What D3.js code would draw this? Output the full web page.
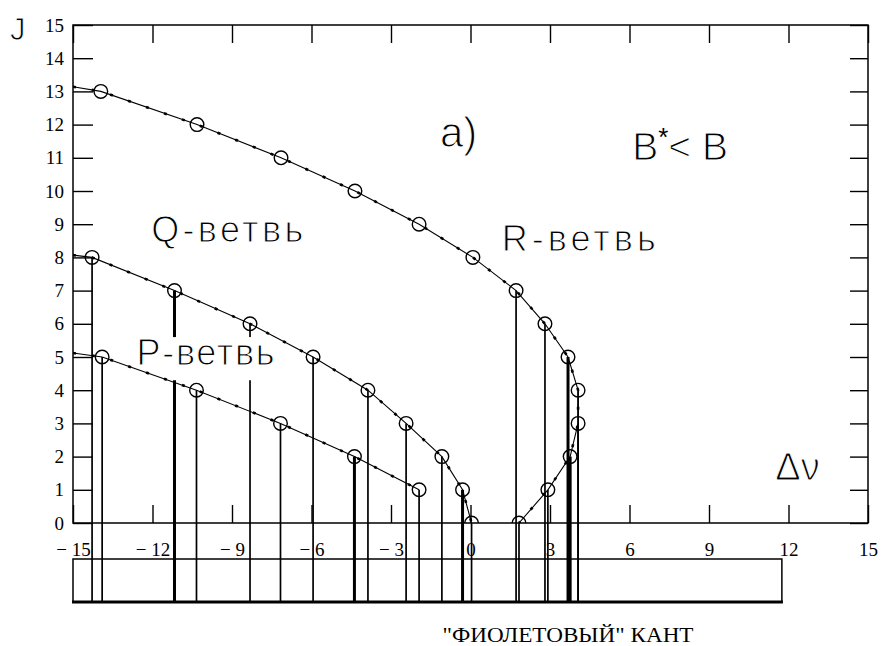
<!DOCTYPE html>
<html>
<head>
<meta charset="utf-8">
<script src="https://cdn.jsdelivr.net/npm/d3@7"></script>
<style>
  body { margin: 0; background: #fff; }
  svg { display: block; }
</style>
</head>
<body>
<svg id="chart" width="886" height="646"></svg>
<script>
// Fortrat diagram: rotational number J against line shift Δν

// R branch (upper curve)
const jR  = [13, 12, 11, 10, 9, 8, 7, 6, 5, 4, 3, 2, 1, 0];
const nuR = [-13.95, -10.32, -7.15, -4.36, -1.94, 0.09, 1.72, 2.81, 3.68, 4.06, 4.06, 3.76, 2.92, 1.83];
// spectral line strength for each R point (0 = no line drawn)
const lineR = [0, 0, 0, 0, 0, 0, 1, 1, 2, 1, 1, 2, 1, 1];

// Q branch (middle curve)
const jQ  = [8, 7, 6, 5, 4, 3, 2, 1, 0];
const nuQ = [-14.28, -11.17, -8.32, -5.94, -3.87, -2.43, -1.08, -0.3, 0.04];
const lineQ = [1, 2, 1, 1, 1, 1, 1, 2, 1];

// P branch (lower curve)
const jP  = [5, 4, 3, 2, 1];
const nuP = [-13.9, -10.34, -7.17, -4.38, -1.94];
const lineP = [1, 1, 1, 2, 1];

// where each curve meets the left border (Δν = -15)
const edgeNu = -15;
const edgeJ = { R: 13.14, Q: 8.07, P: 5.12 };

// axis ticks
const xTicks = [-15, -12, -9, -6, -3, 0, 3, 6, 9, 12, 15];
const yTicks = [0, 1, 2, 3, 4, 5, 6, 7, 8, 9, 10, 11, 12, 13, 14, 15];

// spectrum strip range (Δν)
const stripRange = [-15, 11.75];

const svg = d3.select("#chart");
const plotLeft = 73, plotRight = 868, plotTop = 25, plotBottom = 523;

const x = d3.scaleLinear().domain([-15, 15]).range([plotLeft, plotRight]);
const y = d3.scaleLinear().domain([0, 15]).range([plotBottom, plotTop]);
const lineWidth = d3.scaleOrdinal().domain([1, 2]).range([1.7, 3]);

const branches = [
  { key: "R", j: jR, nu: nuR, line: lineR },
  { key: "Q", j: jQ, nu: nuQ, line: lineQ },
  { key: "P", j: jP, nu: nuP, line: lineP }
];

const stripTop = 559, stripBottom = 602;

svg.append("defs").append("clipPath").attr("id", "plotClip")
  .append("rect").attr("x", plotLeft).attr("y", plotTop)
  .attr("width", plotRight - plotLeft).attr("height", plotBottom - plotTop);

const serif = "'Liberation Serif', 'DejaVu Serif', 'Liberation Sans', serif";
const sans = "'Liberation Sans', Arial, sans-serif";

// ---- axes (ticks point inward) ----
const gx = svg.append("g").attr("transform", `translate(0,${plotBottom})`)
  .call(d3.axisBottom(x).tickValues(xTicks).tickSize(-18).tickPadding(20)
    .tickFormat(d => d < 0 ? "\u2212 " + Math.abs(d) : String(d)));
const gy = svg.append("g").attr("transform", `translate(${plotLeft},0)`)
  .call(d3.axisLeft(y).tickValues(yTicks).tickSize(-20).tickPadding(9));
const gt = svg.append("g").attr("transform", `translate(0,${plotTop})`)
  .call(d3.axisTop(x).tickValues(xTicks).tickSize(-18).tickFormat(""));
const gr = svg.append("g").attr("transform", `translate(${plotRight},0)`)
  .call(d3.axisRight(y).tickValues(yTicks).tickSize(-18).tickFormat(""));

[gx, gy, gt, gr].forEach(g => {
  g.attr("font-family", serif).attr("font-size", 19);
  g.select(".domain").remove();
  g.selectAll(".tick line").attr("stroke", "#000").attr("stroke-width", 1.4);
  g.selectAll(".tick text")
    .attr("fill", "#000")
    .attr("font-family", serif)
    .attr("font-size", 19);
});

// ---- spectrum strip below the axis ----
svg.append("rect")
  .attr("x", x(stripRange[0])).attr("y", stripTop)
  .attr("width", x(stripRange[1]) - x(stripRange[0]))
  .attr("height", stripBottom - stripTop)
  .attr("fill", "none").attr("stroke", "#000").attr("stroke-width", 1.5);

// ---- spectral lines: from each point down through the strip ----
const linesG = svg.append("g");
branches.forEach(b => {
  b.j.forEach((j, i) => {
    if (!b.line[i]) return;
    linesG.append("line")
      .attr("x1", x(b.nu[i])).attr("x2", x(b.nu[i]))
      .attr("y1", y(j)).attr("y2", stripBottom)
      .attr("stroke", "#000")
      .attr("stroke-width", lineWidth(b.line[i]));
  });
});

// strip bottom edge (heavy)
svg.append("line")
  .attr("x1", x(stripRange[0]) - 1).attr("x2", x(stripRange[1]) + 1)
  .attr("y1", stripBottom).attr("y2", stripBottom)
  .attr("stroke", "#000").attr("stroke-width", 3);

// plot frame
svg.append("rect")
  .attr("x", plotLeft).attr("y", plotTop)
  .attr("width", plotRight - plotLeft).attr("height", plotBottom - plotTop)
  .attr("fill", "none").attr("stroke", "#000").attr("stroke-width", 1.5);

// white backing under the P-branch caption
svg.append("rect")
  .attr("x", x(-12.7)).attr("y", y(5.6))
  .attr("width", x(-7.5) - x(-12.7)).attr("height", y(4.3) - y(5.6))
  .attr("fill", "#fff");

// ---- branch curves ----
const curve = d3.line().x(d => x(d[0])).y(d => y(d[1]));
const curvesG = svg.append("g").attr("clip-path", "url(#plotClip)");
branches.forEach(b => {
  const pts = [[edgeNu, edgeJ[b.key]]].concat(b.j.map((j, i) => [b.nu[i], j]));
  curvesG.append("path").attr("d", curve(pts))
    .attr("fill", "none").attr("stroke", "#000").attr("stroke-width", 1.1);
  curvesG.append("path").attr("d", curve(pts))
    .attr("fill", "none").attr("stroke", "#000").attr("stroke-width", 2.6)
    .attr("stroke-dasharray", "3 16");
});

// ---- open circle markers ----
branches.forEach(b => {
  curvesG.selectAll(null)
    .data(b.j.map((j, i) => ({ j, nu: b.nu[i] })))
    .join("circle")
    .attr("cx", d => x(d.nu)).attr("cy", d => y(d.j)).attr("r", 6.8)
    .attr("fill", "none").attr("stroke", "#000").attr("stroke-width", 1.4);
});

// ---- captions ----
function label(txt, nu, j, size, width) {
  const t = svg.append("text")
    .attr("x", x(nu)).attr("y", y(j))
    .attr("font-family", sans).attr("font-size", size)
    .attr("fill", "#000").attr("stroke", "#fff").attr("stroke-width", 1.1)
    .text(txt);
  if (width) t.attr("textLength", width).attr("lengthAdjust", "spacing");
  return t;
}
label("Q-ветвь", -12.05, 8.47, 36, 152);
label("P-ветвь", -12.6, 4.75, 36, 138);
label("R-ветвь", 1.18, 8.2, 36, 154);
label("a)", -1.15, 11.32, 42);
label("\u0394\u03bd", 11.5, 1.3, 38);

const bLabel = svg.append("text")
  .attr("x", x(6.1)).attr("y", y(10.93))
  .attr("font-family", sans).attr("font-size", 39)
  .attr("fill", "#000");
bLabel.append("tspan").attr("stroke", "#fff").attr("stroke-width", 1.1).text("B");
bLabel.append("tspan").attr("dy", -14).attr("font-size", 26).text("*");
bLabel.append("tspan").attr("dy", 14).attr("stroke", "#fff").attr("stroke-width", 1.1).text("< B");

svg.append("text")
  .attr("x", 10).attr("y", 40)
  .attr("font-family", sans).attr("font-size", 31)
  .attr("fill", "#000").attr("stroke", "#fff").attr("stroke-width", 0.9)
  .text("J");

svg.append("text")
  .attr("x", 568).attr("y", 642)
  .attr("text-anchor", "middle")
  .attr("font-family", serif).attr("font-size", 21)
  .attr("textLength", 251).attr("lengthAdjust", "spacingAndGlyphs")
  .attr("fill", "#000")
  .text("\"ФИОЛЕТОВЫЙ\" КАНТ");
</script>
</body>
</html>
